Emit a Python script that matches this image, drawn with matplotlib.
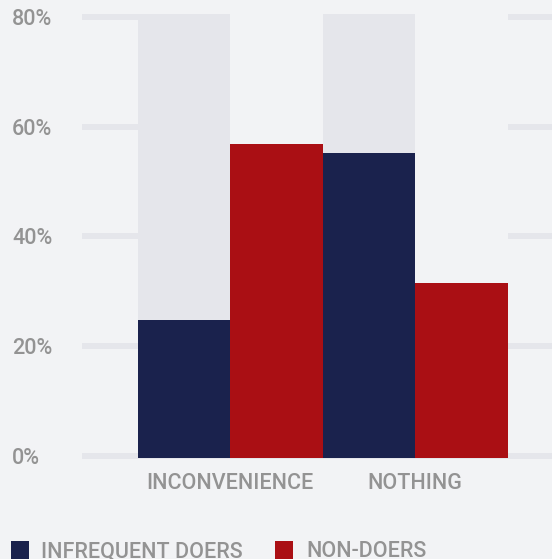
import matplotlib
matplotlib.use("Agg")
import matplotlib.pyplot as plt
import matplotlib.transforms as mtransforms
from matplotlib.patches import Rectangle
import numpy as np

# ---- data ----
categories = ["INCONVENIENCE", "NOTHING"]
series_names = ["INFREQUENT DOERS", "NON-DOERS"]
infrequent_doers = [24.7, 55.3]
non_doers = [56.9, 31.6]
yticks = [0, 20, 40, 60, 80]
ytick_labels = ["0%", "20%", "40%", "60%", "80%"]
ymax = 80

# ---- style ----
BG = "#f2f3f5"
TRACK = "#e5e6eb"
GRID = "#e5e6eb"
NAVY = "#1a224d"
RED = "#aa0f14"
TXT = "#939393"
FONT = ["Roboto", "DejaVu Sans"]
FS = 15.5
FW = "medium"

W, H = 552, 559
fig = plt.figure(figsize=(W / 100, H / 100), dpi=100, facecolor=BG)
ax = fig.add_axes([82 / W, (H - 456) / H, (W - 82) / W, (456 - 17) / H])
ax.set_facecolor(BG)

x = np.arange(len(categories))
w = 0.5
base = -0.3
ax.set_xlim(-0.8, 1.7405)
ax.set_ylim(0, ymax)

for yv in yticks:
    ax.axhline(yv, color=GRID, lw=6 * 0.72, zorder=0, clip_on=False,
               solid_capstyle="butt")

top = ymax + 0.55
# background tracks (grey behind first series, background colour behind second)
ax.bar(x - w / 2, [top - base] * len(x), w, bottom=base, color=TRACK, zorder=1,
       linewidth=0, clip_on=False)
ax.bar(x + w / 2, [top - base] * len(x), w, bottom=base, color=BG, zorder=1,
       linewidth=0, clip_on=False)

ax.bar(x - w / 2, np.array(infrequent_doers) - base, w, bottom=base, color=NAVY,
       zorder=2, linewidth=0, clip_on=False)
ax.bar(x + w / 2, np.array(non_doers) - base, w, bottom=base, color=RED,
       zorder=2, linewidth=0, clip_on=False)

for s in ax.spines.values():
    s.set_visible(False)

ax.set_yticks(yticks)
ax.set_yticklabels(ytick_labels, family=FONT, fontsize=FS, color=TXT, ha="left",
                   va="baseline", fontweight=FW)
ax.tick_params(axis="y", length=0, pad=70 * 0.72)
yoff = mtransforms.ScaledTranslation(0, -7.8 / 100, fig.dpi_scale_trans)
for lbl in ax.get_yticklabels():
    lbl.set_transform(lbl.get_transform() + yoff)

ax.set_xticks(x)
ax.set_xticklabels(categories, family=FONT, fontsize=FS, color=TXT, va="baseline",
                   fontweight=FW)
ax.tick_params(axis="x", length=0, pad=33 * 0.72)

# legend drawn manually
colors = [NAVY, RED]
sq_x = [11, 275]
txt_x = [41, 306]
for name, c, sx, tx in zip(series_names, colors, sq_x, txt_x):
    fig.patches.append(Rectangle((sx / W, (H - 559) / H), 18 / W, 18 / H,
                                 transform=fig.transFigure, color=c, lw=0))
    fig.text(tx / W, (H - 557) / H, name, family=FONT, fontsize=FS, color=TXT,
             ha="left", va="baseline", fontweight=FW)

fig.savefig("out.png", dpi=100, facecolor=BG)
